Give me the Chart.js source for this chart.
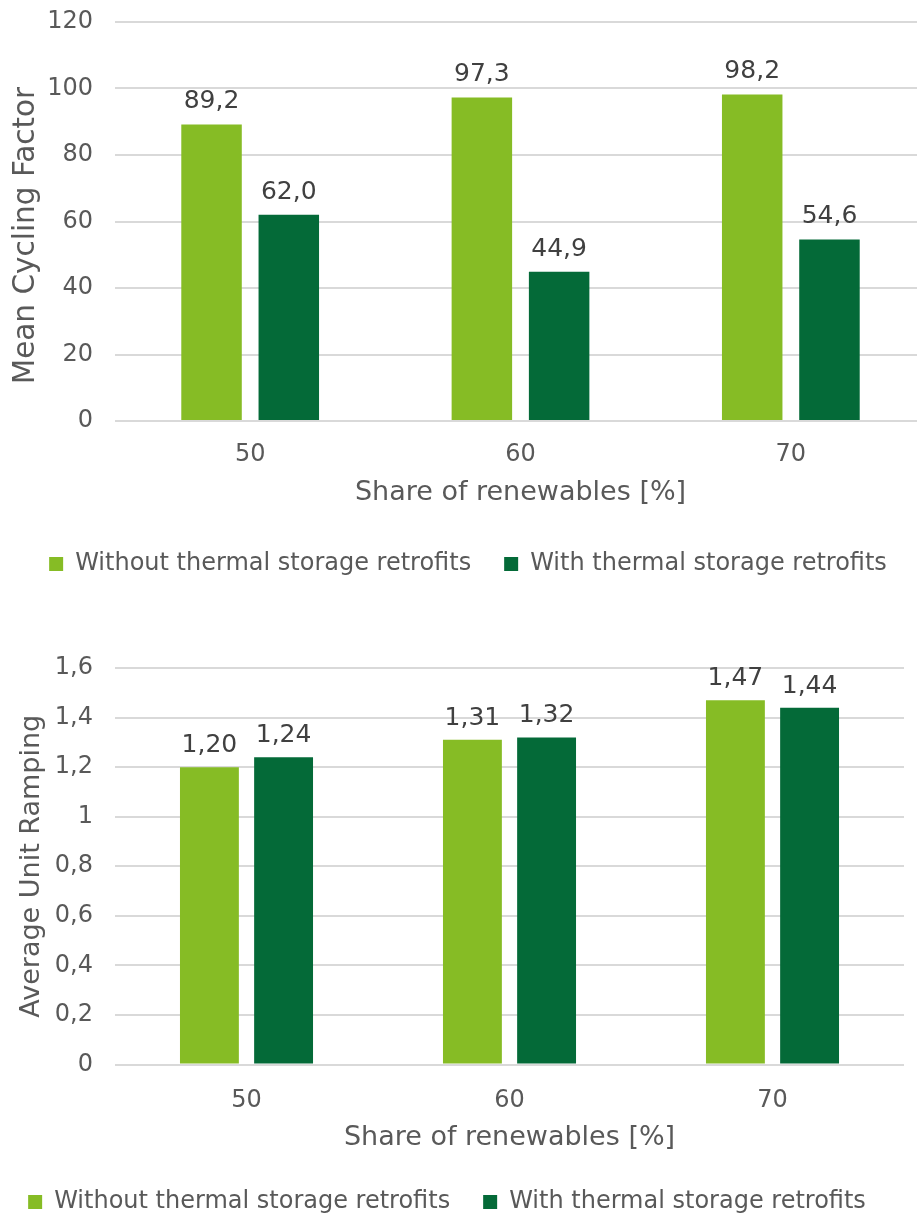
<!DOCTYPE html>
<html>
<head>
<meta charset="utf-8">
<script src="https://cdn.jsdelivr.net/npm/chart.js@4.4.1/dist/chart.umd.min.js"></script>
<style>
    html, body { margin: 0; padding: 0; background: #fff; overflow: hidden; width: 917px; height: 1213px; }
    #cyclingBox { position: absolute; left: 0; top: 0; width: 940px; height: 586px; }
    #rampingBox { position: absolute; left: 0; top: 620px; width: 917px; height: 604px; }
</style>
</head>
<body>
<div id="cyclingBox"><canvas id="cyclingChart"></canvas></div>
<div id="rampingBox"><canvas id="rampingChart"></canvas></div>
<script>
const shares = ['50', '60', '70'];
const seriesNames = ['Without thermal storage retrofits', 'With thermal storage retrofits'];
const cyclingWithout = [89.2, 97.3, 98.2];
const cyclingWith = [62.0, 44.9, 54.6];
const rampingWithout = [1.20, 1.31, 1.47];
const rampingWith = [1.24, 1.32, 1.44];
const cyclingTicks = [0, 20, 40, 60, 80, 100, 120];
const rampingTicks = [0, 0.2, 0.4, 0.6, 0.8, 1, 1.2, 1.4, 1.6];

const lightGreen = '#86bc25';
const darkGreen = '#046a38';

Chart.defaults.font.family = '"DejaVu Sans", Verdana, sans-serif';
Chart.defaults.color = '#595959';

const commaNumber = (v, digits) => v.toFixed(digits).replace('.', ',');

// value printed above each bar
const valueLabels = {
    id: 'valueLabels',
    afterDatasetsDraw(chart, args, opts) {
        const ctx = chart.ctx;
        ctx.save();
        ctx.font = '25px "DejaVu Sans", Verdana, sans-serif';
        ctx.fillStyle = '#404040';
        ctx.textAlign = 'center';
        ctx.textBaseline = 'alphabetic';
        chart.data.datasets.forEach((ds, i) => {
            chart.getDatasetMeta(i).data.forEach((bar, j) => {
                ctx.fillText(commaNumber(ds.data[j], opts.decimals), bar.x, bar.y - opts.lift);
            });
        });
        ctx.restore();
    }
};

// nudge the legend sideways, the source does not center it on the canvas
const legendShift = {
    id: 'legendShift',
    afterLayout(chart, args, opts) {
        if (!chart.legend) return;
        chart.legend.left += opts.dx;
        chart.legend.right += opts.dx;
    }
};

function buildChart(canvasId, cfg) {
    const ctx = document.getElementById(canvasId).getContext('2d');
    return new Chart(ctx, {
        type: 'bar',
        data: {
            labels: shares,
            datasets: [{
                label: seriesNames[0],
                data: cfg.without,
                backgroundColor: lightGreen,
                borderWidth: 0,
                categoryPercentage: cfg.catPct,
                barPercentage: cfg.barPct
            }, {
                label: seriesNames[1],
                data: cfg.with,
                backgroundColor: darkGreen,
                borderWidth: 0,
                categoryPercentage: cfg.catPct,
                barPercentage: cfg.barPct
            }]
        },
        options: {
            responsive: true,
            maintainAspectRatio: false,
            animation: false,
            layout: { padding: cfg.padding },
            plugins: {
                legend: {
                    position: 'bottom',
                    labels: {
                        boxWidth: 14,
                        boxHeight: 14,
                        padding: 33,
                        color: '#595959',
                        font: { size: 24 }
                    }
                },
                tooltip: { enabled: false },
                valueLabels: { decimals: cfg.decimals, lift: cfg.lift },
                legendShift: { dx: cfg.legendDx }
            },
            scales: {
                x: {
                    grid: { display: false, drawTicks: false },
                    border: { display: false },
                    ticks: { padding: cfg.xTickPad, color: '#595959', font: { size: 24 } },
                    title: {
                        display: true,
                        text: 'Share of renewables [%]',
                        color: '#595959',
                        font: { size: 27 },
                        padding: { top: 0, bottom: cfg.xTitlePad }
                    },
                    afterFit: s => { s.height = cfg.xHeight; }
                },
                y: {
                    min: cfg.ticks[0],
                    max: cfg.ticks[cfg.ticks.length - 1],
                    grid: { color: '#d9d9d9', lineWidth: 2, drawTicks: false },
                    border: { display: false },
                    ticks: {
                        padding: 22,
                        color: '#595959',
                        font: { size: 24 },
                        callback: v => commaNumber(v, cfg.tickDigits(v))
                    },
                    afterBuildTicks: s => { s.ticks = cfg.ticks.map(v => ({ value: v })); },
                    title: {
                        display: true,
                        text: cfg.yTitle,
                        color: '#595959',
                        font: { size: cfg.yTitleSize },
                        padding: { top: cfg.yTitlePad, bottom: 0 }
                    },
                    afterFit: s => {
                        s.width = 115;
                        s.paddingTop = 14;
                        s.paddingBottom = 14;
                    }
                }
            }
        },
        plugins: [valueLabels, legendShift]
    });
}

buildChart('cyclingChart', {
    without: cyclingWithout,
    with: cyclingWith,
    ticks: cyclingTicks,
    tickDigits: () => 0,
    yTitle: 'Mean Cycling Factor   ',
    yTitleSize: 29.5,
    catPct: 0.5716,
    barPct: 0.783,
    decimals: 1,
    lift: 16,
    padding: { top: 22, right: 14, left: 0, bottom: 0 },
    xHeight: 98,
    xTickPad: 19,
    xTitlePad: 10,
    yTitlePad: 9,
    legendDx: 5
});

buildChart('rampingChart', {
    without: rampingWithout,
    with: rampingWith,
    ticks: rampingTicks,
    tickDigits: v => (Number.isInteger(Math.round(v * 10) / 10) ? 0 : 1),
    yTitle: 'Average Unit Ramping',
    yTitleSize: 27,
    catPct: 0.564,
    barPct: 0.794,
    decimals: 2,
    lift: 15,
    padding: { top: 48, right: 13, left: 0, bottom: 0 },
    xHeight: 92.5,
    xTickPad: 22,
    xTitlePad: 3,
    yTitlePad: 16,
    legendDx: -5
});
</script>
</body>
</html>
